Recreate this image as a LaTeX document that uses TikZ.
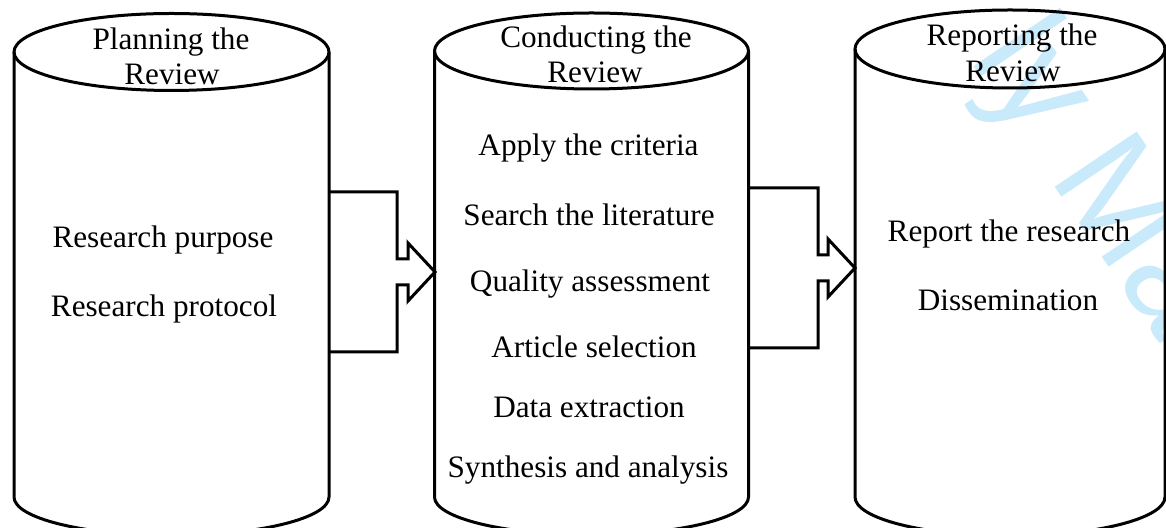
\documentclass[tikz,border=0pt]{standalone}
\usepackage{fontspec}
\setmainfont{Liberation Serif}
\newfontfamily\wmfont{Liberation Sans}
\definecolor{wmblue}{RGB}{200,234,250}
\newcommand\drawcyl[5]{%
  \draw[wall] (#1,#2) ellipse [x radius=#4, y radius=#5];
  \draw[wall] (#1-#4,#2) -- (#1-#4,#3) arc[start angle=180, end angle=0, x radius=#4, y radius=#5] -- (#1+#4,#2);
}
\begin{document}
\begin{tikzpicture}[x=0.5pt,y=-0.5pt,
  wall/.style={line width=1.5pt, line join=round},
  blockarrow/.style={line width=1.5pt, line join=miter},
  lbl/.style={font=\fontsize{15.6}{18}\selectfont, inner sep=0pt, anchor=base},
  wm/.style={font=\wmfont\fontsize{72}{76}\selectfont, text=wmblue, inner sep=0pt, anchor=base west, rotate=-56}]
\useasboundingbox (0,0) rectangle (1166,528);
\begin{scope}
\clip (0,0) rectangle (1166,528);
% watermark
\node[wm] (wmark) at (968,58) {ly Ma};
% cylinders
\drawcyl{171.5}{52}{497}{157.5}{38.5}
\drawcyl{591.5}{51}{497}{157}{38}
\drawcyl{1010}{49}{497}{155}{39}
\end{scope}
% block arrows
\coordinate (a1) at (329,272);
\coordinate (a2) at (749,268);
\draw[blockarrow] (a1) ++(0,-80) -- ++(68,0) -- ++(0,67) -- ++(11,0) -- ++(0,-16)
  -- (435,272) -- (408,301) -- ++(0,-16) -- ++(-11,0) -- ++(0,67) -- (329,352);
\draw[blockarrow] (a2) ++(0,-80) -- ++(69,0) -- ++(0,67) -- ++(10,0) -- ++(0,-16)
  -- (855,268) -- (828,297) -- ++(0,-16) -- ++(-10,0) -- ++(0,67) -- (749,348);
% texts cylinder 1
\node[lbl] (p1) at (171,50) {Planning the};
\node[lbl] (p2) at (172,85) {Review};
\node[lbl] (p3) at (163,248) {Research purpose};
\node[lbl] (p4) at (164,317) {Research protocol};
% texts cylinder 2
\node[lbl] (c1) at (596,48) {Conducting the};
\node[lbl] (c2) at (595,83) {Review};
\node[lbl] (c3) at (588.5,156) {Apply the criteria};
\node[lbl] (c4) at (589,226) {Search the literature};
\node[lbl] (c5) at (590,292) {Quality assessment};
\node[lbl] (c6) at (594,358) {Article selection};
\node[lbl] (c7) at (589,418) {Data extraction};
\node[lbl] (c8) at (588,478) {Synthesis and analysis};
% texts cylinder 3
\node[lbl] (r1) at (1012,46) {Reporting the};
\node[lbl] (r2) at (1013,82) {Review};
\node[lbl] (r3) at (1009,242) {Report the research};
\node[lbl] (r4) at (1008,311) {Dissemination};
\end{tikzpicture}
\end{document}
